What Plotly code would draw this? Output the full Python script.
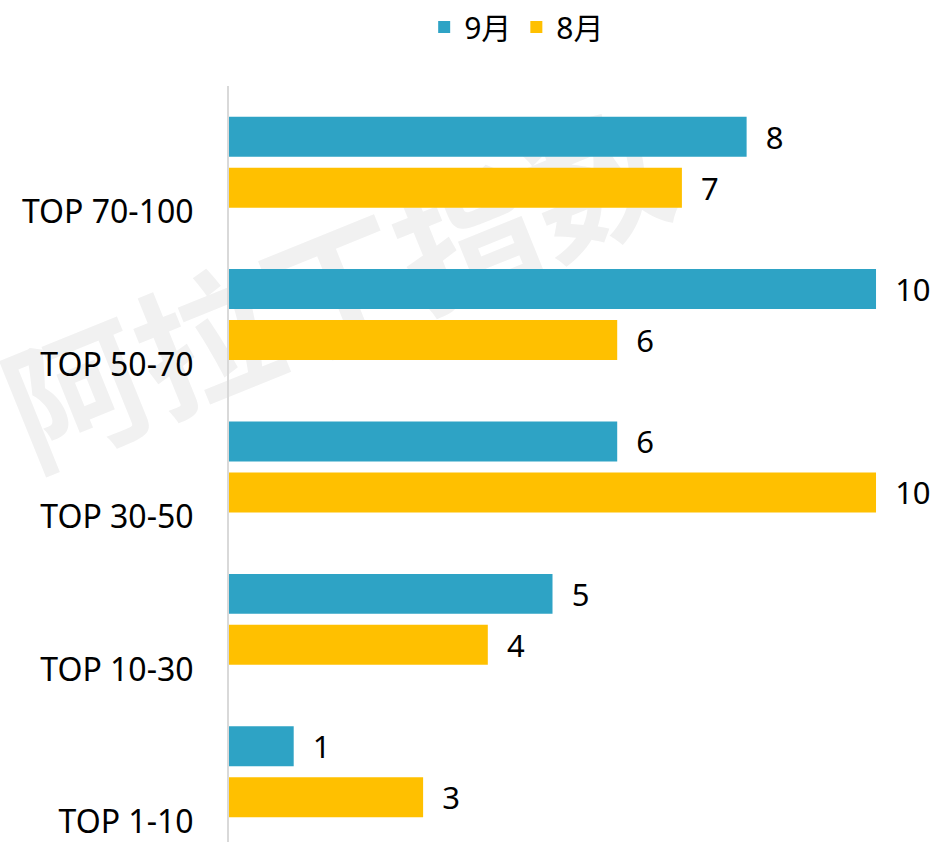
import plotly.graph_objects as go

categories = ["TOP 1-10", "TOP 10-30", "TOP 30-50", "TOP 50-70", "TOP 70-100"]
sep_values = [1, 5, 6, 10, 8]   # 9月
aug_values = [3, 4, 10, 6, 7]   # 8月
series_names = ["9月", "8月"]
colors = {"9月": "#2EA3C5", "8月": "#FFC000"}

FONT = "Noto Sans, Noto Sans CJK SC, sans-serif"

fig = go.Figure()
# 8月 first so that it sits below 9月 within each group
fig.add_trace(go.Bar(
    y=categories, x=aug_values, name=series_names[1], orientation="h",
    marker=dict(color=colors["8月"], line=dict(width=0)),
    texttemplate="  %{x}", textposition="outside", cliponaxis=False,
    constraintext="none", textfont=dict(size=31, color="#000000", family=FONT),
    legendrank=2,
))
fig.add_trace(go.Bar(
    y=categories, x=sep_values, name=series_names[0], orientation="h",
    marker=dict(color=colors["9月"], line=dict(width=0)),
    texttemplate="  %{x}", textposition="outside", cliponaxis=False,
    constraintext="none", textfont=dict(size=31, color="#000000", family=FONT),
    legendrank=1,
))

# faint watermark, drawn below the bars
fig.add_shape(
    type="rect", xref="paper", yref="paper", x0=-0.29, x1=0.61, y0=0.464, y1=0.964,
    layer="below", line=dict(width=0), fillcolor="rgba(0,0,0,0)",
    label=dict(text="<b>阿拉丁指数</b>", textangle=-22,
               font=dict(size=140, color="#F1F1F1", family="Noto Sans CJK SC"),
               textposition="middle center"),
)

fig.update_layout(
    width=936, height=842,
    margin=dict(l=229, r=0, t=86, b=0),
    paper_bgcolor="white", plot_bgcolor="white",
    barmode="group", bargap=0.331, bargroupgap=0.216,
    font=dict(family=FONT, size=32, color="#000000"),
    showlegend=True,
    legend=dict(orientation="h", x=0.552, xanchor="center", xref="container",
                y=0.968, yanchor="middle", yref="container",
                font=dict(size=30, family=FONT), itemwidth=30,
                traceorder="normal"),
    xaxis=dict(range=[0, 10.927], showticklabels=False, showgrid=False,
               zeroline=False, showline=False, ticks=""),
    yaxis=dict(categoryorder="array", categoryarray=categories,
               range=[-0.461, 4.5], showgrid=False, zeroline=False,
               showline=True, linecolor="#D9D9D9", linewidth=2,
               ticks="", ticklabelstandoff=27, ticklabelshift=50,
               tickfont=dict(size=32, family=FONT, color="#000000")),
)

fig.write_html("out.html", config={"displayModeBar": False},
               post_script="document.body.style.margin='0';document.body.style.overflow='hidden';")
